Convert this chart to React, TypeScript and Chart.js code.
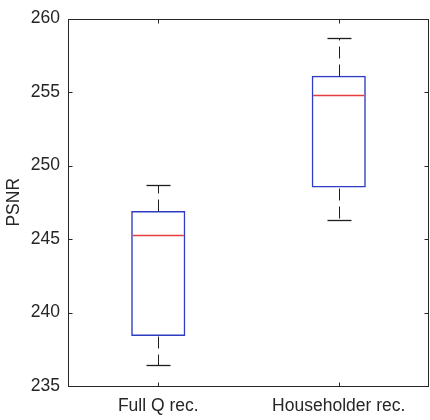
import React, { useEffect, useRef } from "react";
import { Chart, registerables } from "chart.js";

Chart.register(...registerables);

const categories = ["Full Q rec.", "Householder rec."];
const whiskerLow = [236.4, 246.3];
const q1 = [238.4, 248.5];
const median = [245.3, 254.8];
const q3 = [246.9, 256.1];
const whiskerHigh = [248.7, 258.7];
const yMin = 235;
const yMax = 260;
const yStep = 5;
const yTitle = "PSNR";

const FONT = "'Liberation Sans', Arial, Helvetica, sans-serif";
const TEXT = "#262626";
const BLUE = "rgb(45,60,195)";
const RED = "rgb(230,60,60)";

const boxPlugin = {
  id: "boxExtras",
  afterDatasetsDraw(chart: any) {
    const ctx = chart.ctx as CanvasRenderingContext2D;
    const ys = chart.scales.y;
    const xs = chart.scales.x;
    const meta = chart.getDatasetMeta(0);
    const line = (x1: number, y1: number, x2: number, y2: number) => {
      ctx.beginPath();
      ctx.moveTo(x1, y1);
      ctx.lineTo(x2, y2);
      ctx.stroke();
    };
    const py = (v: number) => Math.round(ys.getPixelForValue(v)) + 0.5;
    ctx.save();
    categories.forEach((_, i) => {
      const bar = meta.data[i];
      const cx = Math.round(bar.x) + 0.5;
      const half = bar.width / 2;
      // whiskers (dashed)
      ctx.lineWidth = 1;
      ctx.strokeStyle = "#1e1e1e";
      ctx.setLineDash([12, 6]);
      line(cx, py(q3[i]), cx, py(whiskerHigh[i]));
      line(cx, py(q1[i]), cx, py(whiskerLow[i]));
      ctx.setLineDash([]);
      // caps
      ctx.lineWidth = 1.3;
      const capHalf = 12;
      line(cx - capHalf, py(whiskerHigh[i]), cx + capHalf, py(whiskerHigh[i]));
      line(cx - capHalf, py(whiskerLow[i]), cx + capHalf, py(whiskerLow[i]));
      // median
      ctx.lineWidth = 1.6;
      ctx.strokeStyle = RED;
      line(bar.x - half + 1.5, py(median[i]), bar.x + half - 1.5, py(median[i]));
    });
    // frame
    ctx.lineWidth = 1;
    const a = chart.chartArea;
    const L = Math.round(a.left) + 0.5;
    const R = Math.round(a.right) - 0.5;
    const T = Math.round(a.top) + 0.5;
    const B = Math.round(a.bottom) + 0.5;
    ctx.strokeStyle = TEXT;
    ctx.strokeRect(L, T, R - L, B - T);
    // inward ticks
    const tl = 4;
    ys.ticks.forEach((_: any, k: number) => {
      const y = Math.round(ys.getPixelForTick(k)) + 0.5;
      line(L, y, L + tl, y);
      line(R, y, R - tl, y);
    });
    categories.forEach((_, i) => {
      const x = Math.round(xs.getPixelForValue(i)) + 0.5;
      line(x, B, x, B - tl);
      line(x, T, x, T + tl);
    });
    ctx.restore();
  },
};

export default function App() {
  const ref = useRef<HTMLCanvasElement | null>(null);
  useEffect(() => {
    document.body.style.margin = "0";
    if (!ref.current) return;
    const chart = new Chart(ref.current, {
      type: "bar",
      data: {
        labels: categories,
        datasets: [
          {
            data: categories.map((_, i) => [q1[i], q3[i]]) as any,
            backgroundColor: "rgba(0,0,0,0)",
            borderColor: BLUE,
            borderWidth: 1.5,
            borderSkipped: false,
            barPercentage: 0.3,
            categoryPercentage: 1,
          },
        ],
      },
      options: {
        responsive: false,
        animation: false,
        events: [],
        layout: { padding: { top: 11, right: 1, left: 0, bottom: 0 } },
        plugins: { legend: { display: false }, tooltip: { enabled: false } },
        scales: {
          x: {
            grid: { display: false, drawTicks: false },
            border: { display: false },
            ticks: { color: TEXT, font: { family: FONT, size: 17.5 }, padding: 10, maxRotation: 0 },
            afterFit: (s: any) => {
              s.height = 34;
            },
          },
          y: {
            min: yMin,
            max: yMax,
            grid: { display: false, drawTicks: false },
            border: { display: false },
            ticks: { stepSize: yStep, color: TEXT, font: { family: FONT, size: 17.5 }, padding: 8 },
            title: {
              display: true,
              text: yTitle,
              color: TEXT,
              font: { family: FONT, size: 17.5 },
              padding: { top: 4, bottom: 0 },
            },
            afterFit: (s: any) => {
              s.width = 68;
            },
          },
        },
      },
      plugins: [boxPlugin],
    });
    return () => chart.destroy();
  }, []);
  return (
    <div style={{ width: 430, height: 420, background: "#fff" }}>
      <canvas ref={ref} width={430} height={420} style={{ display: "block" }} />
    </div>
  );
}
